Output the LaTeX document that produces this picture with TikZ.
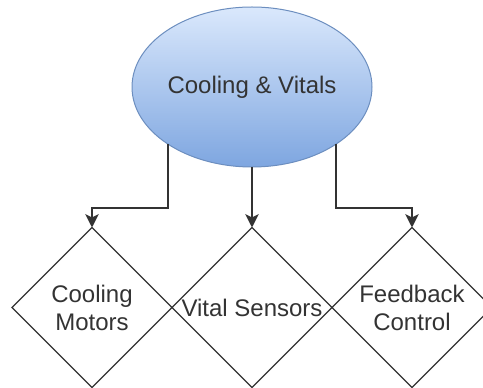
\documentclass[tikz,border=0pt]{standalone}
\usepackage{fontspec}
\setmainfont{Liberation Sans}
\usetikzlibrary{shapes.geometric,arrows.meta}
\definecolor{fillTop}{HTML}{DAE8FC}
\definecolor{fillBot}{HTML}{7EA6E0}
\definecolor{ellStroke}{HTML}{6C8EBF}
\definecolor{ink}{HTML}{333333}
\begin{document}
\begin{tikzpicture}[x=0.75pt,y=-0.75pt,
 ellnode/.style={ellipse, draw=ellStroke, line width=0.75pt, top color=fillTop, bottom color=fillBot, minimum width=180pt, minimum height=120pt, inner sep=0pt, outer sep=0pt, font=\fontsize{18}{21}\selectfont, text=ink},
 dia/.style={diamond, draw=ink, line width=1pt, minimum width=120pt, minimum height=120pt, inner sep=0pt, outer sep=0pt},
 lab/.style={font=\fontsize{18}{21}\selectfont, text=ink, align=center, inner sep=0pt},
 conn/.style={draw=ink, line width=1.5pt, -{Stealth[length=10pt,width=10pt,inset=2.5pt]}}
]
\useasboundingbox (0,0) rectangle (483,388);
\node[ellnode] (ell) at (252,87) {\raisebox{-2pt}{Cooling \& Vitals}};
\node[dia, label={[lab]center:Cooling\\Motors}] (d1) at (92,307.5) {};
\node[dia, label={[lab]center:Vital Sensors}] (d2) at (252,307.5) {};
\node[dia, label={[lab]center:Feedback\\Control}] (d3) at (412,307.5) {};
\coordinate (j1) at (92,208);
\coordinate (j3) at (412,208);
\draw[conn] (ell.214.2) |- (j1) -- (d1.north);
\draw[conn] (ell.south) -- (d2.north);
\draw[conn] (ell.-34.2) |- (j3) -- (d3.north);
\end{tikzpicture}
\end{document}
